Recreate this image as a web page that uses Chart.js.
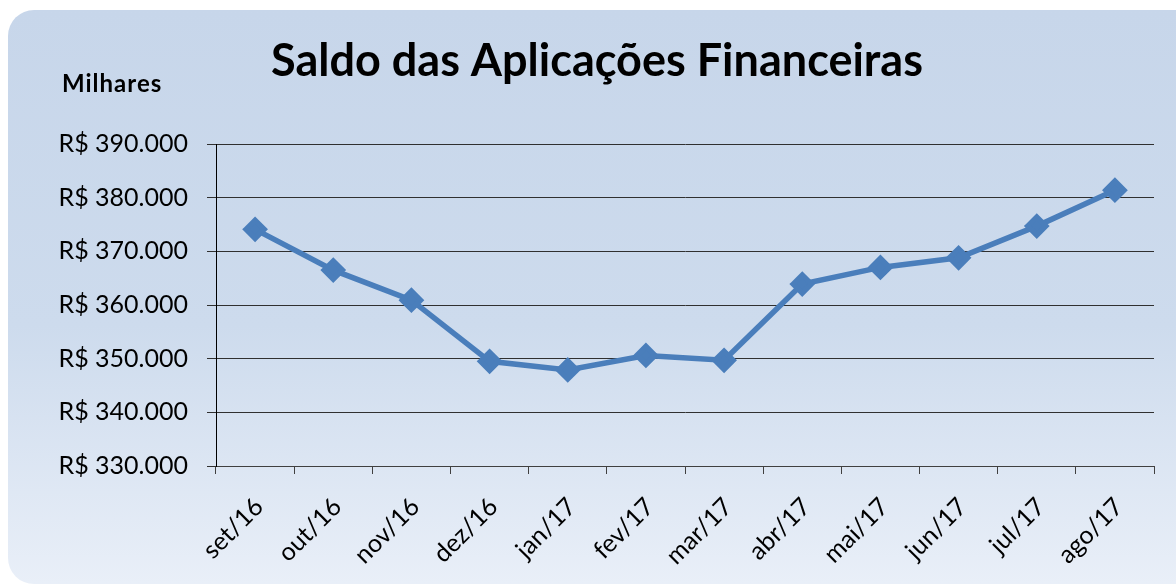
<!DOCTYPE html>
<html>
<head>
<meta charset="utf-8">
<script src="https://cdn.jsdelivr.net/npm/chart.js@4"></script>
<style>
  html, body { margin: 0; padding: 0; background: #ffffff; }
  #wrap { position: relative; width: 1176px; height: 585px; overflow: hidden; }
  #bg {
    position: absolute; left: 8px; top: 10px; width: 1200px; height: 574px;
    border-radius: 26px;
    background: linear-gradient(to bottom, #c7d6ea 0%, #cddbed 55%, #e9eff8 100%);
  }
  #chart { position: absolute; left: 0; top: 0; }
</style>
</head>
<body>
<div id="wrap">
  <div id="bg"></div>
  <canvas id="chart" width="1176" height="585"></canvas>
</div>
<script>
const months = ["set/16", "out/16", "nov/16", "dez/16", "jan/17", "fev/17", "mar/17", "abr/17", "mai/17", "jun/17", "jul/17", "ago/17"];
const saldo = [374100, 366500, 360900, 349500, 347900, 350600, 349700, 363900, 367000, 368800, 374700, 381400];
const yTicks = [330000, 340000, 350000, 360000, 370000, 380000, 390000];

const fontFamily = "Lato, 'Open Sans', sans-serif";

// titulo e "Milhares" em posicao fixa
const textPlugin = {
    id: 'textPlugin',
    afterDraw(chart) {
        const ctx = chart.ctx;
        ctx.save();
        ctx.fillStyle = '#000';
        ctx.textBaseline = 'alphabetic';
        ctx.font = "bold 45px " + fontFamily;
        ctx.textAlign = 'center';
        ctx.fillText("Saldo das Aplicações Financeiras", 597, 76);
        ctx.font = "bold 24px " + fontFamily;
        ctx.textAlign = 'left';
        ctx.letterSpacing = "1px";
        ctx.fillText("Milhares", 62, 92);
        ctx.restore();
    }
};

function brl(v) {
    return "R$ " + v.toLocaleString('pt-BR');
}

const ctx = document.getElementById("chart").getContext("2d");
new Chart(ctx, {
    type: "line",
    data: {
        labels: months,
        datasets: [{
            data: saldo,
            borderColor: "#4a7ebb",
            backgroundColor: "#4a7ebb",
            borderWidth: 5.5,
            pointStyle: "rectRot",
            pointRadius: 9,
            pointHoverRadius: 9,
            tension: 0
        }]
    },
    options: {
        responsive: false,
        animation: false,
        layout: { padding: { left: 0, top: 144, right: 22, bottom: 0 } },
        plugins: {
            legend: { display: false },
            tooltip: { enabled: false }
        },
        scales: {
            x: {
                offset: true,
                afterFit(scale) { scale.height = 119; },
                grid: {
                    offset: true,
                    drawOnChartArea: false,
                    drawTicks: true,
                    tickLength: 8,
                    color: "#404040"
                },
                border: { color: "#404040", width: 1 },
                ticks: {
                    color: "#000",
                    font: { family: fontFamily, size: 25 },
                    maxRotation: 45,
                    minRotation: 45,
                    padding: 18,
                    labelOffset: 4,
                    autoSkip: false
                }
            },
            y: {
                min: 330000,
                max: 390000,
                afterFit(scale) { scale.width = 216; },
                afterBuildTicks(scale) {
                    scale.ticks = yTicks.map(v => ({ value: v }));
                },
                grid: {
                    color: "#303030",
                    lineWidth: 1,
                    tickLength: 9
                },
                border: { color: "#000", width: 1 },
                ticks: {
                    color: "#000",
                    font: { family: fontFamily, size: 25 },
                    padding: 19,
                    callback: v => brl(v)
                }
            }
        }
    },
    plugins: [textPlugin]
});
</script>
</body>
</html>
